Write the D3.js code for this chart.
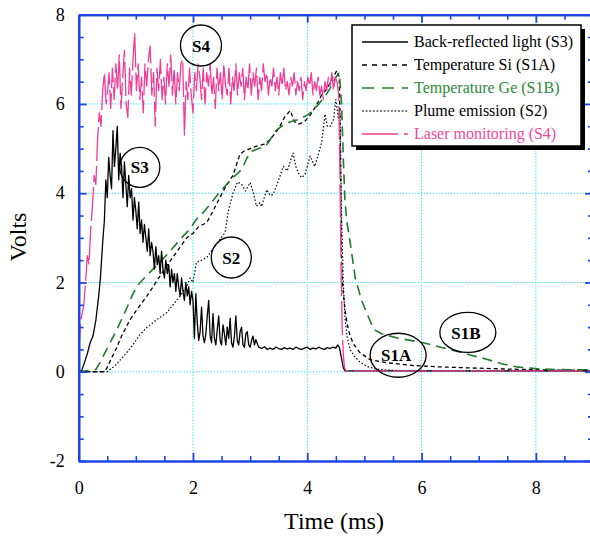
<!DOCTYPE html>
<html><head><meta charset="utf-8">
<script src="https://cdn.jsdelivr.net/npm/d3@7"></script>
<style>body{margin:0;background:#fff}svg{display:block}</style>
</head><body>
<svg id="c" width="590" height="536"></svg>
<script>
// ---------- tick values ----------
const xMajor = [0, 2, 4, 6, 8];
const xMinor = [0.5, 1, 1.5, 2.5, 3, 3.5, 4.5, 5, 5.5, 6.5, 7, 7.5, 8.5];
const yMajor = [-2, 0, 2, 4, 6, 8];
const yMinor = [-1.5, -1, -0.5, 0.5, 1, 1.5, 2.5, 3, 3.5, 4.5, 5, 5.5, 6.5, 7, 7.5];

// ---------- S3 : back-reflected light (solid black) ----------
const s3Start = [[0,0],[0.05,0.02],[0.1,0.2],[0.15,0.4],[0.2,0.65],[0.25,0.8],[0.3,1.15],[0.35,1.7],[0.38,2.1],[0.42,2.9]];
const s3DenseStart = 0.45, s3DenseStep = 0.025;
const s3Dense = [
 3.4,4.3,3.9,4.8,4.4,4.1,5.4,4.6,5.0,5.5,4.3,4.9,4.6,3.9,4.7,4.2,3.7,4.4,3.9,4.1,
 3.4,3.9,3.6,3.2,3.8,3.1,3.4,2.9,3.3,3.0,2.7,3.2,2.6,2.9,2.7,2.3,2.8,2.4,2.6,2.2,
 2.7,2.3,2.1,2.5,2.2,2.4,1.9,2.3,2.0,2.2,1.8,2.2,1.9,1.7,2.1,1.8,1.6,2.0,1.7,1.9,
 1.5,1.8,1.6,
 0.75,1.75,1.1,0.7,0.9,1.45,0.8,0.65,0.85,1.25,1.6,0.8,0.65,1.3,0.75,0.6,0.95,1.25,0.7,0.6,
 1.05,0.85,0.6,1.0,0.75,1.2,0.65,0.55,0.8,1.25,0.7,0.6,0.9,1.0,0.6,0.55,0.85,0.9,0.6,0.55,
 0.7,0.8,0.6,0.72];
const s3Tail = [[3.15,0.55],[3.2,0.52],[3.25,0.56],[3.3,0.5],[3.35,0.53],[3.4,0.5],[3.45,0.55],[3.5,0.52],
 [3.55,0.5],[3.6,0.54],[3.65,0.51],[3.7,0.53],[3.75,0.5],[3.8,0.55],[3.85,0.52],[3.9,0.5],[3.95,0.53],
 [4.0,0.55],[4.05,0.5],[4.1,0.53],[4.15,0.51],[4.2,0.55],[4.25,0.52],[4.3,0.5],[4.35,0.54],[4.4,0.52],
 [4.45,0.55],[4.5,0.53],[4.53,0.6],[4.56,0.55],[4.6,0.3],[4.63,0.09],[4.66,0.02],[9,0.02]];

// ---------- S1A : temperature Si (black dashed) ----------
const s1a = [[0,0],[0.45,0],[0.5,0.1],[0.55,0.24],[0.65,0.5],[0.75,0.8],[0.9,1.17],[1.05,1.45],[1.19,1.69],
 [1.3,1.9],[1.45,2.2],[1.6,2.48],[1.75,2.75],[1.89,3.0],[2.0,3.1],[2.1,3.25],[2.24,3.34],[2.35,3.6],
 [2.45,3.85],[2.53,4.05],[2.6,4.2],[2.7,4.4],[2.82,4.87],[2.9,4.95],[3.0,5.0],[3.1,5.05],[3.25,5.1],
 [3.35,5.2],[3.5,5.45],[3.6,5.7],[3.7,5.85],[3.78,5.6],[3.85,5.55],[3.95,5.6],[4.05,5.75],[4.15,5.95],
 [4.25,6.2],[4.35,6.35],[4.45,6.6],[4.52,6.75],[4.56,6.6],[4.58,5.0],[4.6,2.5],[4.62,1.9],[4.66,1.4],
 [4.7,1.05],[4.75,0.8],[4.82,0.6],[4.92,0.43],[5.1,0.27],[5.4,0.2],[5.85,0.14],[6.3,0.11],[6.73,0.09],
 [7.5,0.06],[8.2,0.04],[9,0.03]];

// ---------- S1B : temperature Ge (green long dash) ----------
const s1b = [[0,0],[0.3,0.05],[0.37,0.2],[0.45,0.4],[0.55,0.65],[0.65,0.9],[0.75,1.17],[0.85,1.45],
 [0.95,1.75],[1.04,1.95],[1.15,2.1],[1.3,2.3],[1.42,2.45],[1.6,2.7],[1.77,2.96],[1.95,3.2],[2.05,3.4],
 [2.18,3.57],[2.3,3.75],[2.45,4.0],[2.59,4.2],[2.7,4.35],[2.85,4.53],[2.95,4.8],[3.03,4.94],[3.15,5.0],
 [3.3,5.1],[3.45,5.4],[3.55,5.5],[3.7,5.6],[3.85,5.65],[4.0,5.75],[4.1,5.85],[4.2,6.0],[4.3,6.15],
 [4.4,6.35],[4.5,6.6],[4.56,6.7],[4.6,6.0],[4.63,4.8],[4.66,3.8],[4.7,3.3],[4.75,2.9],[4.84,2.1],
 [4.95,1.6],[5.04,1.32],[5.16,0.95],[5.3,0.85],[5.56,0.76],[6.03,0.65],[6.3,0.56],[6.61,0.46],
 [6.9,0.36],[7.14,0.28],[7.4,0.18],[7.66,0.11],[8.0,0.07],[8.36,0.05],[9,0.04]];

// ---------- S2 : plume emission (black dotted) ----------
const s2 = [[0,0],[0.5,0],[0.55,0.05],[0.65,0.15],[0.75,0.3],[0.84,0.43],[0.95,0.6],[1.05,0.8],[1.19,0.99],
 [1.3,1.1],[1.4,1.2],[1.54,1.32],[1.65,1.5],[1.75,1.65],[1.89,1.92],[1.95,2.1],[2.0,2.0],[2.06,2.45],
 [2.15,2.5],[2.24,2.56],[2.35,2.75],[2.47,2.96],[2.56,3.12],[2.62,3.6],[2.7,4.0],[2.78,4.25],[2.85,4.2],
 [2.92,4.05],[3.0,4.24],[3.06,4.0],[3.11,3.71],[3.17,3.79],[3.2,3.7],[3.29,4.08],[3.35,3.95],[3.4,3.97],
 [3.5,4.3],[3.58,4.6],[3.65,4.5],[3.75,4.9],[3.8,4.6],[3.84,4.46],[3.9,4.35],[3.96,4.42],[4.05,4.83],
 [4.13,4.6],[4.2,4.9],[4.25,5.13],[4.31,5.77],[4.35,5.5],[4.4,5.5],[4.46,5.65],[4.5,6.1],[4.54,5.7],
 [4.57,5.9],[4.6,3.5],[4.63,2.0],[4.66,1.2],[4.7,0.75],[4.75,0.5],[4.82,0.35],[4.92,0.22],[5.04,0.12],
 [5.2,0.06],[5.5,0.03],[6,0.02],[9,0.02]];

// ---------- S4 : laser monitoring (pink) ----------
const s4Rise = [[0,0.3],[0.03,1.1],[0.06,1.3],[0.09,1.5],[0.12,2.0],[0.15,2.6],[0.18,2.4],[0.21,3.2],
 [0.24,3.7],[0.27,4.4],[0.3,4.2],[0.33,5.2],[0.36,5.8],[0.39,5.5],[0.42,6.3],[0.45,6.7],[0.48,6.0]];
const s4DenseStart = 0.5, s4DenseStep = 0.03;
const s4Dense = [
 6.2,6.7,5.9,6.8,6.1,6.9,6.3,7.1,5.9,6.6,7.2,6.0,5.7,6.8,6.2,7.0,7.6,6.3,6.9,6.1,
 6.6,5.8,6.9,6.4,7.0,7.3,6.2,6.7,5.5,6.8,6.3,7.0,6.1,6.6,6.0,6.9,6.4,7.1,6.2,6.8,
 6.0,6.7,6.3,6.9,7.0,5.3,6.5,6.1,6.8,6.2,5.8,6.7,6.3,6.9,6.6,6.1,6.8,6.0,6.7,6.4,
 6.9,6.2,6.6,5.9,6.8,6.3,6.7,6.1,6.9,6.4,6.2,6.8,6.0,6.6,6.3,6.9,6.2,6.7,6.4,6.8,
 6.1,6.6,6.3,6.9,6.2,6.7,6.4,6.8,6.1,6.6,6.3,6.9,6.5,6.7,6.2,6.6,6.4,6.8,6.3,6.6,
 6.2,6.7,6.4,6.8,6.3,6.5,6.2,6.6,6.4,6.7,6.2,6.5,6.3,6.6,6.1,6.5,6.3,6.6,6.4,6.7,
 6.2,6.5,6.3,6.6,6.2,6.4,6.1,6.5,6.3,6.6,6.4,6.7,6.3,6.6,6.5];
const s4Fall = [[4.55,6.2],[4.57,4.5],[4.59,2.5],[4.61,1.0],[4.63,0.4],[4.65,0.1],[4.68,0.02],[9,0.02]];

// ---------- legend & annotations ----------
const legendLabels = ["Back-reflected light (S3)","Temperature Si (S1A)","Temperature Ge (S1B)","Plume emission (S2)","Laser monitoring (S4)"];
const noteLabels = ["S4","S3","S2","S1A","S1B"];
const noteT = [2.14, 1.07, 2.67, 5.59, 6.81];
const noteV = [7.31, 4.58, 2.56, 0.37, 0.88];

// ================= drawing =================
const svg = d3.select("#c");
const L = 78.7, R = 593, T = 14.7, B = 461;
const x = d3.scaleLinear().domain([0, 9]).range([L, R]);
const y = d3.scaleLinear().domain([-2, 8]).range([B, T]);
const AX = "#1f45e6", GRID = "#3fe0f0";
const GREEN = "#1f7a2c", PINK = "#f03c96";
const FONT = "'Liberation Serif','Times New Roman',serif";

function dense(t0, dt, vals) { return vals.map((v, i) => [t0 + i * dt, v]); }
const S3 = s3Start.concat(dense(s3DenseStart, s3DenseStep, s3Dense), s3Tail);
const S4 = s4Rise.concat(dense(s4DenseStart, s4DenseStep, s4Dense), s4Fall);

svg.append("rect").attr("width", 590).attr("height", 536).attr("fill", "#fff");
svg.append("defs").append("clipPath").attr("id", "clip")
  .append("rect").attr("x", L).attr("y", T).attr("width", R - L).attr("height", B - T);

// grid
const g = svg.append("g");
g.selectAll(".gx").data(xMajor.filter(d => d > 0)).enter().append("line")
  .attr("x1", d => x(d)).attr("x2", d => x(d)).attr("y1", T).attr("y2", B)
  .attr("stroke", GRID).attr("stroke-width", 1).attr("stroke-dasharray", "1.5,1.5");
g.selectAll(".gy").data(yMajor.filter(d => d > -2 && d < 8)).enter().append("line")
  .attr("y1", d => y(d)).attr("y2", d => y(d)).attr("x1", L).attr("x2", R)
  .attr("stroke", GRID).attr("stroke-width", 1).attr("stroke-dasharray", "1.5,1.5");

// series
const line = d3.line().x(d => x(d[0])).y(d => y(d[1]));
const plot = svg.append("g").attr("clip-path", "url(#clip)");
const series = [
  {d: s2, c: "#000", w: 1.2, dash: "1.5,2"},
  {d: s1a, c: "#000", w: 1.3, dash: "4,3"},
  {d: s1b, c: GREEN, w: 1.6, dash: "10,6"},
  {d: S3, c: "#000", w: 1.3, dash: null},
  {d: S4, c: PINK, w: 1.3, dash: "34,5"}
];
series.forEach(s => {
  plot.append("path").attr("d", line(s.d)).attr("fill", "none")
    .attr("stroke", s.c).attr("stroke-width", s.w)
    .attr("stroke-dasharray", s.dash).attr("stroke-linejoin", "round");
});

// axes
function styleAxis(sel, w) {
  sel.select(".domain").attr("stroke", AX).attr("stroke-width", 2.2);
  sel.selectAll(".tick line").attr("stroke", AX).attr("stroke-width", w);
  sel.selectAll(".tick text").attr("fill", "#000").style("font-family", FONT).style("font-size", "18px");
}
const fmt = d => String(d);
styleAxis(svg.append("g").attr("transform", `translate(0,${B})`)
  .call(d3.axisBottom(x).tickValues(xMinor).tickSize(-5).tickSizeOuter(0).tickFormat("")), 1.6);
styleAxis(svg.append("g").attr("transform", `translate(0,${B})`)
  .call(d3.axisBottom(x).tickValues(xMajor).tickSize(-8).tickSizeOuter(0).tickPadding(20).tickFormat(fmt)), 1.8);
styleAxis(svg.append("g").attr("transform", `translate(0,${T})`)
  .call(d3.axisTop(x).tickValues(xMinor).tickSize(-5).tickSizeOuter(0).tickFormat("")), 1.6);
styleAxis(svg.append("g").attr("transform", `translate(0,${T})`)
  .call(d3.axisTop(x).tickValues(xMajor).tickSize(-8).tickSizeOuter(0).tickFormat("")), 1.8);
styleAxis(svg.append("g").attr("transform", `translate(${L},0)`)
  .call(d3.axisLeft(y).tickValues(yMinor).tickSize(-5).tickSizeOuter(0).tickFormat("")), 1.6);
styleAxis(svg.append("g").attr("transform", `translate(${L},0)`)
  .call(d3.axisLeft(y).tickValues(yMajor).tickSize(-8).tickSizeOuter(0).tickPadding(14).tickFormat(fmt)), 1.8);
styleAxis(svg.append("g").attr("transform", `translate(${R},0)`)
  .call(d3.axisRight(y).tickValues(yMinor).tickSize(-5).tickSizeOuter(0).tickFormat("")), 1.6);
styleAxis(svg.append("g").attr("transform", `translate(${R},0)`)
  .call(d3.axisRight(y).tickValues(yMajor).tickSize(-8).tickSizeOuter(0).tickFormat("")), 1.8);

// axis titles
svg.append("text").attr("transform", "translate(26,237) rotate(-90)").attr("text-anchor", "middle")
  .style("font-family", FONT).style("font-size", "24px").text("Volts");
svg.append("text").attr("x", 334).attr("y", 529).attr("text-anchor", "middle")
  .style("font-family", FONT).style("font-size", "24px").text("Time (ms)");

// annotations
const notes = svg.append("g");
const noteR = [[20.5,20.5],[20,20],[20,20.5],[28,22],[28,20]];
noteLabels.forEach((lab, i) => {
  const cx = x(noteT[i]), cy = y(noteV[i]);
  notes.append("ellipse").attr("cx", cx).attr("cy", cy).attr("rx", noteR[i][0]).attr("ry", noteR[i][1])
    .attr("fill", "none").attr("stroke", "#000").attr("stroke-width", 1.3);
  notes.append("text").attr("x", cx - (lab.length > 2 ? 2 : 0)).attr("y", cy).attr("dy", "0.36em")
    .attr("text-anchor", "middle").style("font-family", FONT).style("font-size", "17px")
    .style("font-weight", "bold").text(lab);
});

// legend
const lg = svg.append("g");
const lx = 352, ly = 25, lw = 229, lh = 121;
lg.append("rect").attr("x", lx + 4).attr("y", ly + 4).attr("width", lw).attr("height", lh).attr("fill", "#000");
lg.append("rect").attr("x", lx).attr("y", ly).attr("width", lw).attr("height", lh)
  .attr("fill", "#fff").attr("stroke", "#000").attr("stroke-width", 1.5);
const lcol = ["#000", "#000", GREEN, "#000", PINK];
const ltxt = ["#000", "#000", "#2a8a3c", "#000", "#f0489a"];
const ldash = [null, "5,5", "12,8", "2,1.6", "36,6"];
const lwid = [1.4, 1.3, 1.6, 1.2, 1.4];
legendLabels.forEach((lab, i) => {
  const yy = ly + 17 + i * 23;
  lg.append("line").attr("x1", lx + 10).attr("x2", lx + 56).attr("y1", yy).attr("y2", yy)
    .attr("stroke", lcol[i]).attr("stroke-width", lwid[i]).attr("stroke-dasharray", ldash[i]);
  lg.append("text").attr("x", lx + 62).attr("y", yy + 5).attr("fill", ltxt[i])
    .style("font-family", FONT).style("font-size", "16px").text(lab);
});
</script></body></html>
